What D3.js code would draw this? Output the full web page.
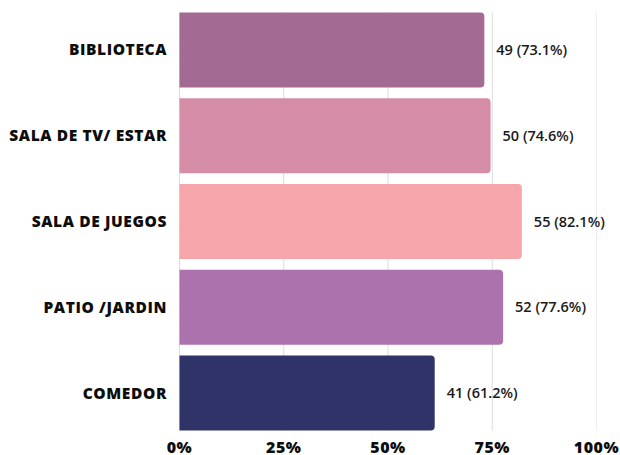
<!DOCTYPE html>
<html>
<head>
<meta charset="utf-8">
<script src="https://cdn.jsdelivr.net/npm/d3@7"></script>
<style>
  body { margin: 0; background: #fff; }
  svg { display: block; }
  .cat { font-family: "Open Sans", sans-serif; font-weight: 800; font-size: 15.5px; letter-spacing: 0.6px; fill: #0d0d0d; }
  .val { font-family: "Open Sans", sans-serif; font-weight: 600; font-size: 14.5px; fill: #1a1a1a; }
  .tick-lbl { font-family: "Open Sans", sans-serif; font-weight: 800; font-size: 16px; letter-spacing: 0.5px; fill: #0d0d0d; }
</style>
</head>
<body>
<div id="chart"></div>
<script>
const categories = ["BIBLIOTECA", "SALA DE TV/ ESTAR", "SALA DE JUEGOS", "PATIO /JARDIN", "COMEDOR"]
const counts = [49, 50, 55, 52, 41]
const percents = [73.1, 74.6, 82.1, 77.6, 61.2]
const barColors = ["#a36a93", "#d58ca7", "#f6a5aa", "#ab72ad", "#2f3368"]
const tickValues = [0, 25, 50, 75, 100]

const w = 620
const h = 455

const svg = d3
  .select("#chart")
  .append("svg")
  .attr("width", w)
  .attr("height", h)

const x = d3.scaleLinear().domain([0, 100]).range([179.5, 596.5])
const y = d3
  .scaleBand()
  .domain(categories)
  .range([7, 436])
  .paddingInner(0.126)
  .paddingOuter(0.063)

const data = categories.map((c, i) => ({
  cat: c,
  count: counts[i],
  pct: percents[i],
  color: barColors[i],
}))

const gridTop = y(categories[0])
const gridBottom = y(categories[categories.length - 1]) + y.bandwidth()

// vertical gridlines
svg
  .append("g")
  .selectAll("line")
  .data(tickValues)
  .enter()
  .append("line")
  .attr("x1", (d) => x(d))
  .attr("x2", (d) => x(d))
  .attr("y1", gridTop)
  .attr("y2", gridBottom)
  .attr("stroke", (d) => (d === 100 ? "#eeeeee" : "#dcdcdc"))
  .attr("stroke-width", 1)

// bar with rounded right end only
const barPath = (d) => {
  const x0 = x(0)
  const x1 = x(d.pct)
  const y0 = y(d.cat)
  const y1 = y0 + y.bandwidth()
  const r = 4
  return `M${x0},${y0} H${x1 - r} Q${x1},${y0} ${x1},${y0 + r} V${y1 - r} Q${x1},${y1} ${x1 - r},${y1} H${x0} Z`
}

svg
  .append("g")
  .selectAll("path")
  .data(data)
  .enter()
  .append("path")
  .attr("d", barPath)
  .attr("fill", (d) => d.color)

// value labels
svg
  .append("g")
  .selectAll("text")
  .data(data)
  .enter()
  .append("text")
  .attr("class", "val")
  .attr("x", (d) => x(d.pct) + 12)
  .attr("y", (d) => y(d.cat) + y.bandwidth() / 2)
  .attr("dy", "0.35em")
  .text((d) => `${d.count} (${d.pct.toFixed(1)}%)`)

// category labels
svg
  .append("g")
  .selectAll("text")
  .data(data)
  .enter()
  .append("text")
  .attr("class", "cat")
  .attr("x", x(0) - 12.5)
  .attr("y", (d) => y(d.cat) + y.bandwidth() / 2)
  .attr("dy", "0.35em")
  .attr("text-anchor", "end")
  .text((d) => d.cat)

// x tick labels
svg
  .append("g")
  .selectAll("text")
  .data(tickValues)
  .enter()
  .append("text")
  .attr("class", "tick-lbl")
  .attr("x", (d) => x(d))
  .attr("y", 453)
  .attr("text-anchor", "middle")
  .text((d) => d + "%")
</script>
</body>
</html>
